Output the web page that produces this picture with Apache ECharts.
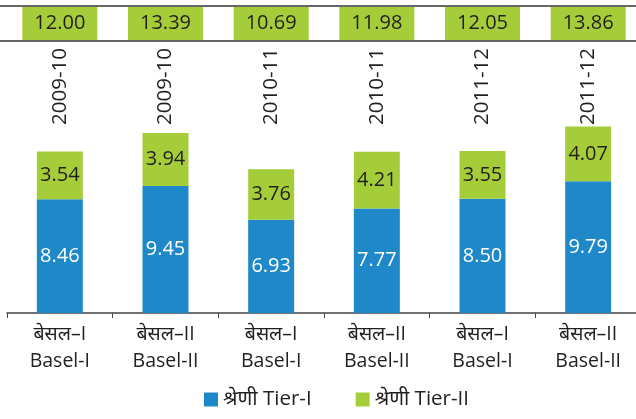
<!DOCTYPE html>
<html>
<head>
<meta charset="utf-8">
<script src="https://cdn.jsdelivr.net/npm/echarts@6/dist/echarts.min.js"></script>
<style>
  html, body { margin: 0; padding: 0; background: #fff; }
  #chart-panel { width: 636px; height: 419px; }
</style>
</head>
<body>
<div id="chart-panel"></div>
<script>
// data
var years = ['2009-10', '2009-10', '2010-11', '2010-11', '2011-12', '2011-12'];
var regimes = ['बेसल–I\nBasel-I', 'बेसल–II\nBasel-II', 'बेसल–I\nBasel-I', 'बेसल–II\nBasel-II', 'बेसल–I\nBasel-I', 'बेसल–II\nBasel-II'];
var tier1 = [8.46, 9.45, 6.93, 7.77, 8.50, 9.79];
var tier2 = [3.54, 3.94, 3.76, 4.21, 3.55, 4.07];
var totals = ['12.00', '13.39', '10.69', '11.98', '12.05', '13.86'];

var font = '"Open Sans", "Noto Sans", sans-serif';
var ink = '#231f20';

var myChart = echarts.init(document.getElementById('chart-panel'));
var option = {
    textStyle: { fontFamily: font },
    animation: false,
    grid: { left: 7, right: -5, top: 44, bottom: 106, outerBoundsMode: 'none', containLabel: false },
    legend: {
        left: 199,
        bottom: 4,
        icon: 'rect',
        itemWidth: 14,
        itemHeight: 14,
        itemGap: 44,
        textStyle: { fontSize: 20.5, color: ink, fontFamily: font },
        data: ['श्रेणी Tier-I', 'श्रेणी Tier-II']
    },
    graphic: [
        { type: 'line', shape: { x1: 0, y1: 6, x2: 636, y2: 6 }, style: { stroke: '#333', lineWidth: 1.5 } },
        { type: 'line', shape: { x1: 0, y1: 41, x2: 636, y2: 41 }, style: { stroke: '#333', lineWidth: 1.5 } }
    ],
    xAxis: [
        {
            type: 'category',
            position: 'bottom',
            data: regimes,
            axisLine: { lineStyle: { color: '#444', width: 1.5 } },
            axisTick: { show: true, length: 5, lineStyle: { color: '#444' } },
            axisLabel: { fontSize: 19.5, lineHeight: 27, color: ink, margin: 8, interval: 0 }
        },
        {
            type: 'category',
            position: 'top',
            offset: 3,
            data: totals,
            axisLine: { show: false },
            axisTick: { show: false },
            axisLabel: {
                interval: 0,
                margin: 1,
                fontSize: 20,
                color: ink,
                backgroundColor: '#a5cd39',
                width: 75,
                height: 33,
                lineHeight: 33,
                align: 'center'
            }
        },
        {
            type: 'category',
            position: 'top',
            data: years,
            axisLine: { show: false },
            axisTick: { show: false },
            axisLabel: {
                interval: 0,
                inside: true,
                rotate: -90,
                margin: 4,
                fontSize: 20.5,
                color: ink,
                align: 'right',
                verticalAlign: 'middle'
            }
        }
    ],
    yAxis: { type: 'value', min: 0, max: 20, show: false },
    series: [
        {
            name: 'श्रेणी Tier-I',
            type: 'bar',
            stack: 'crar',
            barWidth: 46,
            itemStyle: { color: '#1f88c9' },
            label: { show: true, position: 'inside', color: '#fff', fontSize: 20,
                formatter: function (p) { return p.value.toFixed(2); } },
            data: tier1
        },
        {
            name: 'श्रेणी Tier-II',
            type: 'bar',
            stack: 'crar',
            barWidth: 46,
            itemStyle: { color: '#a5cd39' },
            label: { show: true, position: 'inside', color: ink, fontSize: 20,
                formatter: function (p) { return p.value.toFixed(2); } },
            data: tier2
        }
    ]
};
myChart.setOption(option);
</script>
</body>
</html>
